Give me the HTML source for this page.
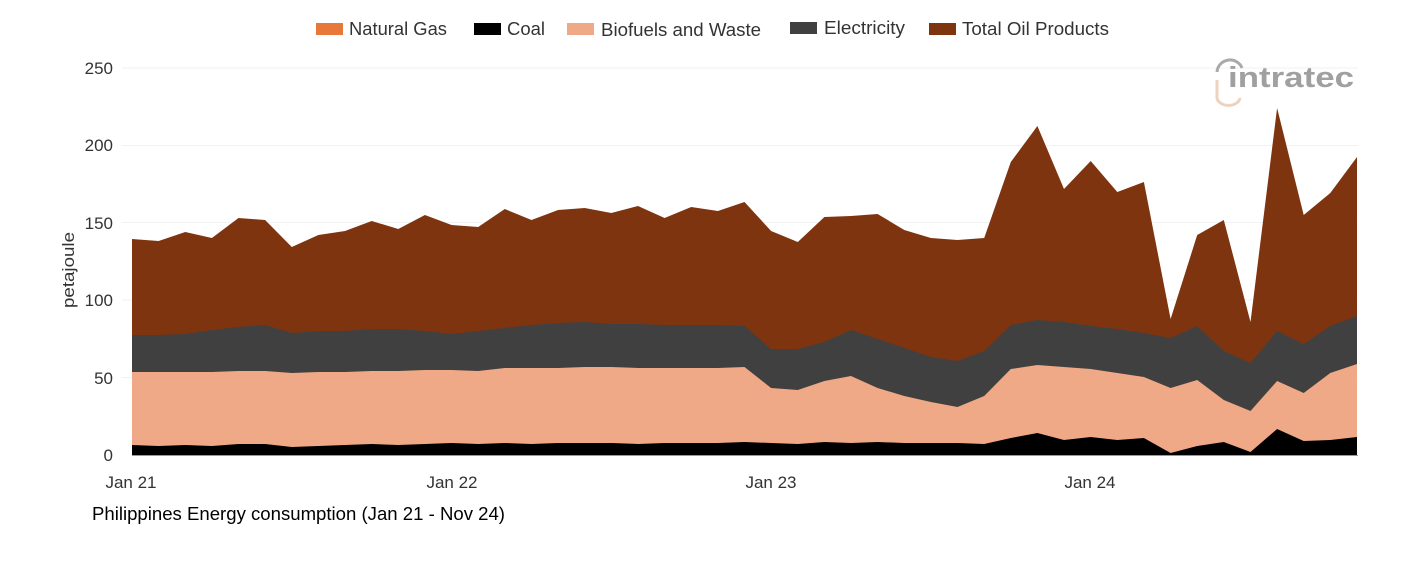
<!DOCTYPE html>
<html><head><meta charset="utf-8"><style>
html,body{margin:0;padding:0;background:#fff;}
body{width:1401px;height:561px;overflow:hidden;font-family:"Liberation Sans",sans-serif;}
</style></head><body>
<svg id="s" width="1401" height="561" xmlns="http://www.w3.org/2000/svg" font-family="Liberation Sans, sans-serif">
<g stroke="#f2f2f2" stroke-width="1">
<line x1="122" x2="1358" y1="68" y2="68"/><line x1="122" x2="1358" y1="145.5" y2="145.5"/>
<line x1="122" x2="1358" y1="222.5" y2="222.5"/><line x1="122" x2="1358" y1="300" y2="300"/>
<line x1="122" x2="1358" y1="377.5" y2="377.5"/>
</g>
<g font-size="17" fill="#333" text-anchor="end">
<text x="113" y="74">250</text><text x="113" y="151">200</text><text x="113" y="229">150</text>
<text x="113" y="306">100</text><text x="113" y="384">50</text><text x="113" y="461">0</text>
</g>
<text transform="translate(74,270) rotate(-90)" font-size="17" fill="#333" text-anchor="middle" textLength="76" lengthAdjust="spacingAndGlyphs">petajoule</text>
<g id="areas"></g>
<line x1="132" x2="1358" y1="455.5" y2="455.5" stroke="#999" stroke-width="1"/>
<g font-size="17" fill="#333" text-anchor="middle">
<text x="131" y="488">Jan 21</text><text x="452" y="488">Jan 22</text>
<text x="771" y="488">Jan 23</text><text x="1090" y="488">Jan 24</text>
</g>
<text x="92" y="520" font-size="18" fill="#000" textLength="413" lengthAdjust="spacingAndGlyphs">Philippines Energy consumption (Jan 21 - Nov 24)</text>
<g font-size="18" fill="#333">
<rect x="316" y="23" width="27" height="12" fill="#e8783a"/><text x="349" y="35" textLength="98" lengthAdjust="spacingAndGlyphs">Natural Gas</text>
<rect x="474" y="23" width="27" height="12" fill="#000"/><text x="507" y="35" textLength="38" lengthAdjust="spacingAndGlyphs">Coal</text>
<rect x="567" y="23" width="27" height="12" fill="#f0a986"/><text x="601" y="36" textLength="160" lengthAdjust="spacingAndGlyphs">Biofuels and Waste</text>
<rect x="790" y="22" width="27" height="12" fill="#404040"/><text x="824" y="34" textLength="81" lengthAdjust="spacingAndGlyphs">Electricity</text>
<rect x="929" y="23" width="27" height="12" fill="#7f3410"/><text x="962" y="35" textLength="147" lengthAdjust="spacingAndGlyphs">Total Oil Products</text>
</g>
<g>
<path d="M1217 72 A13 13 0 0 1 1242 68" stroke="#aaa" stroke-width="3" fill="none"/>
<path d="M1217 80 L1217 96 A11 8 0 0 0 1240 98" stroke="#ecd3bf" stroke-width="3" fill="none"/>
<text x="1228" y="87" font-size="29" fill="#a0a0a0" font-weight="bold" textLength="126" lengthAdjust="spacingAndGlyphs">intratec</text>
</g>
</svg>
<script>
var tot=[239,241,232,238,218,220,247,235,231,221,229,215,225,227,209,220,210,208,213,206,218,207,211,202,231,242,217,216,214,230,238,240,238,162,126,189,161,192,182,319,235,220,322,108,215,193,157];
var ele=[335,335,334,330,327,325,333,331,331,329,329,331,334,331,328,325,323,322,324,324,325,325,325,326,349,349,342,330,339,348,357,361,351,325,320,322,326,329,333,338,326,351,363,331,344,326,316];
var bio=[372,372,372,372,371,371,373,372,372,371,371,370,370,371,368,368,368,367,367,368,368,368,368,367,388,390,381,376,388,396,402,407,396,369,365,367,369,373,377,388,380,400,411,381,393,373,364];
var coal=[445,446,445,446,444,444,447,446,445,444,445,444,443,444,443,444,443,443,443,444,443,443,443,442,443,444,442,443,442,443,443,443,444,438,433,440,437,440,438,453,446,442,452,429,441,440,437];
var g=document.getElementById('areas');
function poly(a,c){var p=[];for(var i=0;i<a.length;i++)p.push((132+i*26.63).toFixed(1)+','+a[i]);
p.push((132+46*26.63).toFixed(1)+',455');p.push('132,455');
var e=document.createElementNS('http://www.w3.org/2000/svg','polygon');e.setAttribute('points',p.join(' '));e.setAttribute('fill',c);g.appendChild(e);}
poly(tot,'#7f3410');poly(ele,'#404040');poly(bio,'#f0a986');poly(coal,'#000');
</script>
</body></html>
